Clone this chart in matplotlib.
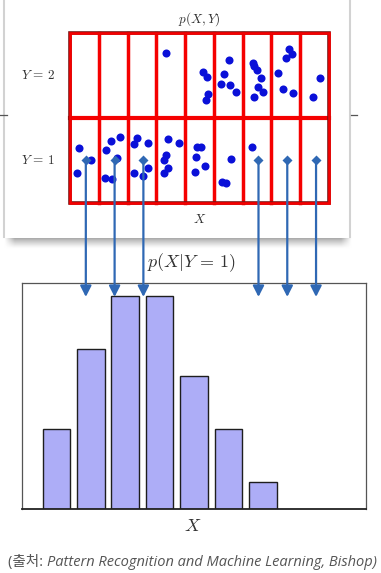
import numpy as np
import matplotlib
matplotlib.use('Agg')
import matplotlib.pyplot as plt
from matplotlib.patches import Rectangle
import matplotlib.patheffects as pe

plt.rcParams['mathtext.fontset'] = 'cm'

# ---------------- data ----------------
n_cols = 9
n_rows = 2
row_labels = [r'$Y\,=\,1$', r'$Y\,=\,2$']

# points in the Y=2 row (x in column units, y in row units)
y2_x = [3.35, 4.61, 4.77, 4.79, 4.74, 5.53, 5.34, 5.23, 5.56, 5.78, 6.35, 6.41, 6.50,
        6.64, 6.53, 6.69, 6.40, 7.60, 7.70, 7.52, 7.22, 7.41, 7.74, 8.68, 8.46]
y2_y = [1.77, 1.54, 1.48, 1.28, 1.21, 1.68, 1.52, 1.40, 1.39, 1.30, 1.65, 1.61, 1.56,
        1.47, 1.36, 1.30, 1.25, 1.81, 1.75, 1.70, 1.53, 1.34, 1.29, 1.47, 1.25]
# points in the Y=1 row
y1_x = [0.30, 0.26, 0.72, 1.74, 1.41, 1.25, 1.65, 1.21, 1.46, 2.32, 2.23, 2.70, 2.21,
        2.53, 2.71, 3.39, 3.79, 3.33, 3.25, 3.40, 3.25, 4.41, 4.56, 4.38, 4.69, 4.36,
        5.61, 5.27, 5.41, 6.33]
y1_y = [0.65, 0.35, 0.50, 0.78, 0.73, 0.62, 0.53, 0.29, 0.28, 0.76, 0.69, 0.70, 0.35,
        0.32, 0.41, 0.75, 0.70, 0.57, 0.51, 0.41, 0.35, 0.66, 0.66, 0.54, 0.43, 0.37,
        0.52, 0.25, 0.23, 0.66]

# histogram p(X|Y=1)
hist_x = [1, 2, 3, 4, 5, 6, 7]
hist_counts = [3, 6, 8, 8, 5, 3, 1]

# columns with arrows
arrow_cols = [0, 1, 2, 6, 7, 8]

caption_plain = '(출처: '
caption_italic = 'Pattern Recognition and Machine Learning, Bishop)'

# ---------------- figure ----------------
W, H = 381, 573
fig = plt.figure(figsize=(W / 100, H / 100), dpi=100)
fig.patch.set_facecolor('white')

# background (slide) layer in pixel coordinates
bg = fig.add_axes([0, 0, 1, 1], zorder=-5)
bg.set_xlim(0, W)
bg.set_ylim(H, 0)
bg.axis('off')
bg.add_patch(Rectangle((4, 0), 346, 238, facecolor='white', edgecolor='none'))
bg.plot([4, 4], [0, 237], color='#d2d2d2', lw=1.5)
bg.plot([350, 350], [0, 237], color='#d2d2d2', lw=1.5)
bg.plot([0, 7], [115, 115], color='#555555', lw=0.9)
bg.plot([351, 357], [115, 115], color='#555555', lw=0.9)
# shadow under card
nv, nh = 24, 360
vert = np.linspace(1, 0, nv)[:, None] ** 1.3
xs = np.linspace(0, 1, nh)
horiz = np.clip(np.minimum(xs / 0.03, (1 - xs) / 0.03), 0, 1)[None, :]
shade = 1 - 0.42 * vert * horiz
bg.imshow(shade, cmap='gray', vmin=0, vmax=1, extent=(4, 352, 249, 236),
          aspect='auto', interpolation='bilinear')
bg.set_xlim(0, W)
bg.set_ylim(H, 0)

blue_arrow = '#2f68b4'
text_col = '#333333'

# ---------------- top: joint p(X,Y) grid ----------------
ax = fig.add_axes([70 / W, (H - 203) / H, 259 / W, 170 / H], zorder=3)
ax.set_xlim(0, n_cols)
ax.set_ylim(0, n_rows)
ax.axis('off')
ax.patch.set_alpha(0)

red = '#f50000'
for c in range(1, n_cols):
    ax.plot([c, c], [0, n_rows], color=red, lw=2.5, clip_on=False, zorder=2)
ax.plot([0, n_cols], [1, 1], color=red, lw=3.0, clip_on=False, zorder=2)
outer = Rectangle((0, 0), n_cols, n_rows, facecolor='none', edgecolor=red, lw=1.9,
                  clip_on=False, zorder=3,
                  path_effects=[pe.Stroke(linewidth=2.6, foreground='#7a1414'), pe.Normal()])
ax.add_patch(outer)

ax.plot(y2_x, y2_y, 'o', color='#0a10d8', ms=5.8, mec='none', clip_on=False, zorder=4)
ax.plot(y1_x, y1_y, 'o', color='#0a10d8', ms=5.8, mec='none', clip_on=False, zorder=4)

ax.annotate('$p(X,Y)$', xy=(0.5, 1), xycoords='axes fraction', xytext=(0, 5),
            textcoords='offset pixels', ha='center', va='bottom', fontsize=9.5, color=text_col)
for r, lab in enumerate(row_labels):
    ax.annotate(lab, xy=(0, r + 0.5), xytext=(-15, 0), textcoords='offset pixels',
                ha='right', va='center', fontsize=9.5, color=text_col, annotation_clip=False)
ax.annotate('$X$', xy=(0.5, 0), xycoords='axes fraction', xytext=(0, -17),
            textcoords='offset pixels', ha='center', va='center', fontsize=9.5, color=text_col)

# arrows from Y=1 row to the histogram
for c in arrow_cols:
    xa = c + 0.55
    ax.annotate('', xy=(xa, -1.105), xytext=(xa, 0.5),
                arrowprops=dict(arrowstyle='-|>,head_length=0.65,head_width=0.33',
                                color=blue_arrow, lw=1.6, shrinkA=0, shrinkB=0,
                                mutation_scale=10),
                annotation_clip=False, zorder=6)
    ax.plot([xa], [0.5], marker='D', color=blue_arrow, ms=5.2, mec='none',
            clip_on=False, zorder=7)

# ---------------- bottom: histogram p(X|Y=1) ----------------
ax2 = fig.add_axes([22 / W, (H - 509) / H, 344 / W, 226 / H], zorder=1)
ax2.set_xlim(0, 10)
ax2.set_ylim(0, 8.5)
ax2.bar(hist_x, hist_counts, width=0.8, color='#adadf7', edgecolor='#1e1e1e', lw=1.0)
ax2.set_xticks([])
ax2.set_yticks([])
for s in ['left', 'top', 'right']:
    ax2.spines[s].set_color('#555555')
    ax2.spines[s].set_linewidth(0.9)
ax2.spines['bottom'].set_color('#222222')
ax2.spines['bottom'].set_linewidth(1.3)
ax2.annotate(r'$p(X|Y\,=\,1)$', xy=(0.5, 1), xycoords='axes fraction', xytext=(-2, 20),
             textcoords='offset pixels', ha='center', va='center', fontsize=13, color=text_col)
ax2.annotate('$X$', xy=(0.5, 0), xycoords='axes fraction', xytext=(-1, -17),
             textcoords='offset pixels', ha='center', va='center', fontsize=13, color=text_col)

# ---------------- caption ----------------
fams = ['Open Sans', 'Noto Sans CJK KR', 'DejaVu Sans']
t1 = fig.text(8 / W, 7 / H, caption_plain, family=fams, fontsize=10.5, color='#555555',
              va='baseline', ha='left')
fig.canvas.draw()
bb = t1.get_window_extent()
fig.text(bb.x1 / W, 7 / H, caption_italic, family=fams, style='italic', fontsize=10.5,
         color='#555555', va='baseline', ha='left')

fig.savefig('out.png', dpi=100)
